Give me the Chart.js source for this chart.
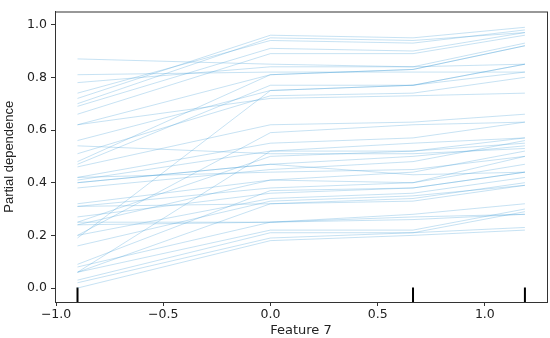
<!DOCTYPE html>
<html>
<head>
<meta charset="utf-8">
<script src="https://cdn.jsdelivr.net/npm/chart.js@4.4.1/dist/chart.umd.min.js"></script>
<style>
  html, body { margin: 0; padding: 0; background: #fff; }
  #wrap { width: 550px; height: 338px; }
</style>
</head>
<body>
<div id="wrap"><canvas id="ice"></canvas></div>
<script>
// grid values of feature 7 where each curve is evaluated
const gridX = [-0.9, 0.0, 0.665, 1.187];

// one row per sample (individual conditional expectation)
const iceCurves = [
    [0.87, 0.85, 0.84, 0.85],
    [0.81, 0.82, 0.82, 0.82],
    [0.78, 0.84, 0.84, 0.93],
    [0.74, 0.94, 0.93, 0.98],
    [0.72, 0.96, 0.95, 0.99],
    [0.70, 0.95, 0.94, 0.97],
    [0.69, 0.91, 0.90, 0.97],
    [0.66, 0.89, 0.89, 0.96],
    [0.62, 0.72, 0.73, 0.74],
    [0.62, 0.81, 0.83, 0.92],
    [0.56, 0.75, 0.77, 0.85],
    [0.54, 0.51, 0.51, 0.53],
    [0.51, 0.73, 0.74, 0.80],
    [0.48, 0.81, 0.83, 0.92],
    [0.47, 0.77, 0.77, 0.82],
    [0.46, 0.62, 0.63, 0.66],
    [0.42, 0.55, 0.57, 0.63],
    [0.42, 0.44, 0.45, 0.50],
    [0.41, 0.52, 0.52, 0.57],
    [0.40, 0.47, 0.50, 0.54],
    [0.40, 0.47, 0.43, 0.44],
    [0.38, 0.45, 0.48, 0.56],
    [0.32, 0.41, 0.44, 0.52],
    [0.31, 0.38, 0.40, 0.50],
    [0.31, 0.32, 0.34, 0.40],
    [0.27, 0.36, 0.38, 0.44],
    [0.25, 0.50, 0.52, 0.55],
    [0.25, 0.25, 0.27, 0.28],
    [0.24, 0.41, 0.40, 0.47],
    [0.24, 0.25, 0.26, 0.28],
    [0.20, 0.59, 0.62, 0.63],
    [0.20, 0.34, 0.36, 0.42],
    [0.19, 0.75, 0.77, 0.85],
    [0.16, 0.33, 0.35, 0.39],
    [0.09, 0.37, 0.38, 0.44],
    [0.08, 0.25, 0.28, 0.32],
    [0.06, 0.52, 0.55, 0.57],
    [0.06, 0.32, 0.33, 0.39],
    [0.06, 0.22, 0.22, 0.30],
    [0.03, 0.21, 0.21, 0.29],
    [0.02, 0.19, 0.21, 0.23],
    [0.00, 0.18, 0.20, 0.22]
];

// deciles of the feature shown as a rug on the x axis
const deciles = [-0.9, 0.665, 1.187];

const xMin = -1.005, xMax = 1.29;
const yMin = -0.053, yMax = 1.05;

const datasets = iceCurves.map(row => ({
    data: row.map((v, i) => ({ x: gridX[i], y: v })),
    borderColor: 'rgba(70, 160, 215, 0.3)',
    borderWidth: 1,
    pointRadius: 0,
    showLine: true,
    fill: false
}));

// rug: short black ticks, 5% of the axes height
deciles.forEach(d => {
    datasets.push({
        data: [{ x: d, y: yMin }, { x: d, y: yMin + 0.05 * (yMax - yMin) }],
        borderColor: '#000',
        borderWidth: 2,
        pointRadius: 0,
        showLine: true,
        fill: false
    });
});

const minus = v => v.toFixed(1).replace('-', '\u2212');

// box around the plot area like matplotlib spines
const frame = {
    id: 'frame',
    afterDraw(chart) {
        const a = chart.chartArea, c = chart.ctx;
        c.save();
        c.strokeStyle = '#333';
        c.lineWidth = 1;
        c.strokeRect(a.left + 0.5, a.top + 0.5, a.right - a.left, a.bottom - a.top);
        c.restore();
    }
};

new Chart(document.getElementById('ice'), {
    type: 'scatter',
    data: { datasets: datasets },
    plugins: [frame],
    options: {
        responsive: true,
        maintainAspectRatio: false,
        animation: false,
        layout: { padding: { top: 3, right: 3, left: 2, bottom: 0 } },
        plugins: { legend: { display: false }, tooltip: { enabled: false } },
        scales: {
            x: {
                type: 'linear',
                min: xMin,
                max: xMax,
                afterBuildTicks: s => { s.ticks = [-1, -0.5, 0, 0.5, 1].map(v => ({ value: v })); },
                afterFit: s => { s.height = 36; },
                grid: { drawOnChartArea: false, tickLength: 4, color: '#333' },
                border: { color: '#333' },
                ticks: {
                    color: '#222',
                    font: { family: 'DejaVu Sans', size: 12.5 },
                    padding: 1,
                    callback: v => minus(v)
                },
                title: {
                    display: true,
                    text: 'Feature 7',
                    color: '#222',
                    font: { family: 'DejaVu Sans', size: 13 },
                    padding: { top: 0, bottom: 0 }
                }
            },
            y: {
                type: 'linear',
                min: yMin,
                max: yMax,
                afterBuildTicks: s => { s.ticks = [0, 0.2, 0.4, 0.6, 0.8, 1.0].map(v => ({ value: v })); },
                afterFit: s => { s.width = 53; },
                grid: { drawOnChartArea: false, tickLength: 4, color: '#333' },
                border: { color: '#333' },
                ticks: {
                    color: '#222',
                    font: { family: 'DejaVu Sans', size: 12.5 },
                    padding: 4,
                    callback: v => minus(v)
                },
                title: {
                    display: true,
                    text: 'Partial dependence',
                    color: '#222',
                    font: { family: 'Liberation Sans', size: 13 },
                    padding: { top: 0, bottom: 0 }
                }
            }
        }
    }
});
</script>
</body>
</html>
